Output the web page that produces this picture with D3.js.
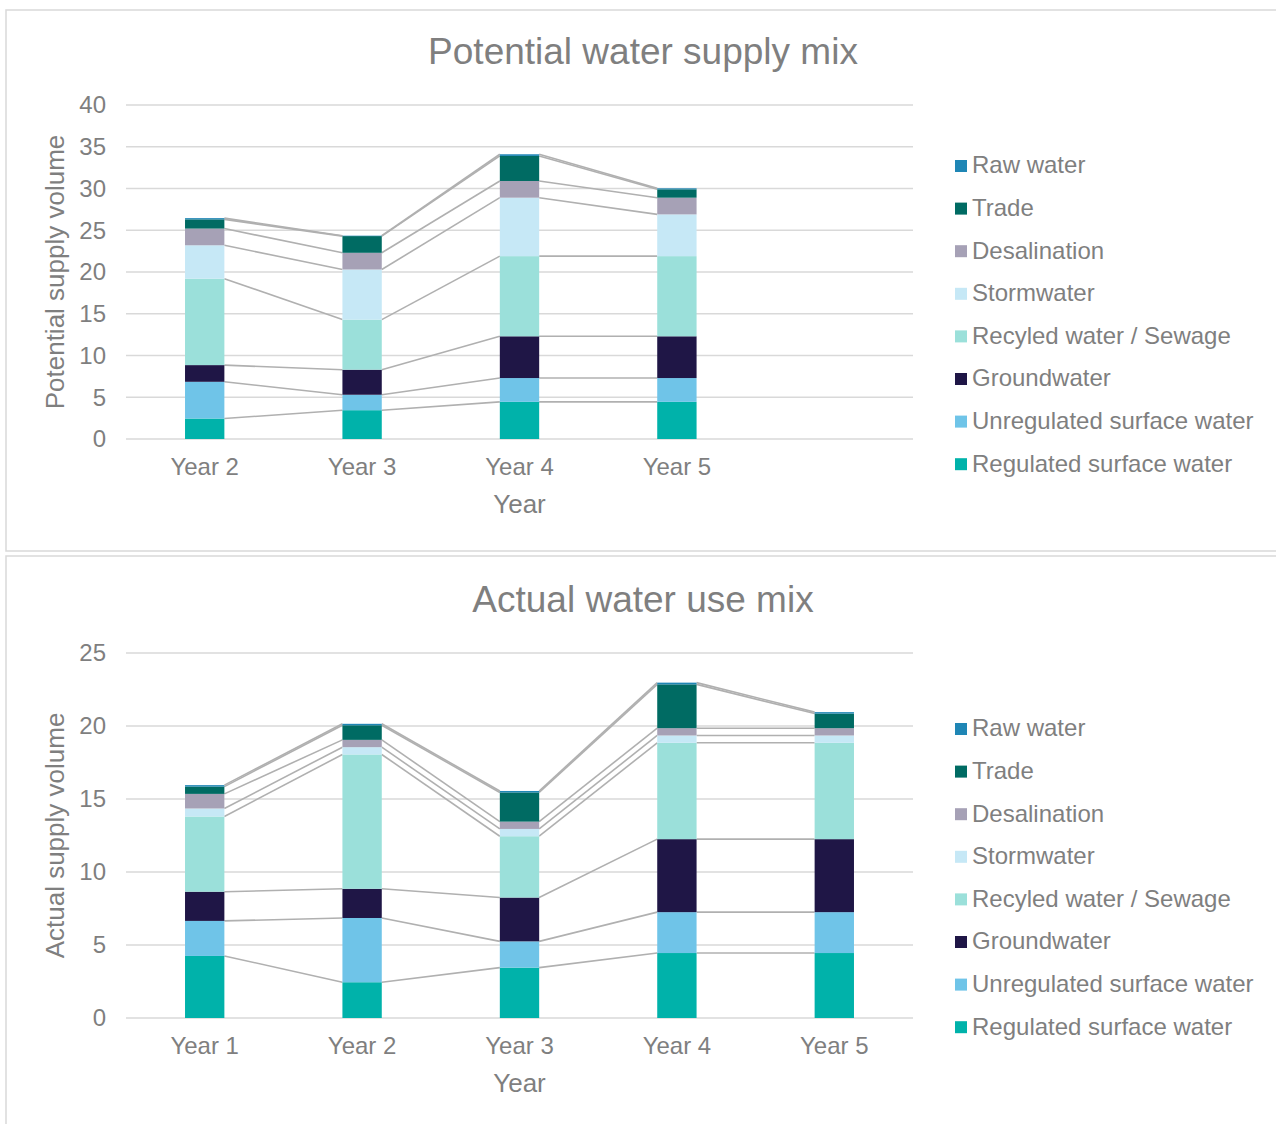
<!DOCTYPE html>
<html>
<head>
<meta charset="utf-8">
<script src="https://cdn.jsdelivr.net/npm/d3@7"></script>
<style>
  body { margin: 0; background: #fff; }
  text { font-family: "Liberation Sans", Arial, sans-serif; fill: #7f7f7f; }
</style>
</head>
<body>
<svg id="chart" width="1276" height="1124"></svg>
<script>
// series, bottom to top of each stack
var seriesNames = ['Regulated surface water', 'Unregulated surface water', 'Groundwater',
  'Recyled water / Sewage', 'Stormwater', 'Desalination', 'Trade', 'Raw water'];
var seriesColors = ['#00b2aa', '#6fc4e8', '#1f1646', '#9be0da', '#c6e8f6', '#a6a1b6', '#006b63', '#1f86b5'];

// Potential water supply mix
var potentialYears = ['Year 2', 'Year 3', 'Year 4', 'Year 5'];
var potRegulated   = [2.45, 3.45, 4.45, 4.45];
var potUnregulated = [4.4, 1.85, 2.85, 2.85];
var potGroundwater = [2.0, 3.0, 5.0, 5.0];
var potRecycled    = [10.35, 6.0, 9.6, 9.6];
var potStormwater  = [4.0, 6.0, 7.0, 5.0];
var potDesal       = [2.0, 2.0, 2.0, 2.0];
var potTrade       = [1.1, 2.0, 3.0, 1.0];
var potRaw         = [0.15, 0.05, 0.2, 0.12];
var potTicks       = [0, 5, 10, 15, 20, 25, 30, 35, 40];

// Actual water use mix
var actualYears = ['Year 1', 'Year 2', 'Year 3', 'Year 4', 'Year 5'];
var actRegulated   = [4.25, 2.45, 3.45, 4.45, 4.45];
var actUnregulated = [2.4, 4.4, 1.8, 2.8, 2.8];
var actGroundwater = [2.0, 2.0, 3.0, 5.0, 5.0];
var actRecycled    = [5.15, 9.2, 4.2, 6.6, 6.6];
var actStormwater  = [0.55, 0.5, 0.5, 0.5, 0.5];
var actDesal       = [1.0, 0.5, 0.5, 0.5, 0.5];
var actTrade       = [0.5, 1.0, 2.0, 3.0, 1.0];
var actRaw         = [0.1, 0.1, 0.1, 0.12, 0.1];
var actTicks       = [0, 5, 10, 15, 20, 25];

var svg = d3.select('#chart');

function drawChart(cfg) {
  var g = svg.append('g');

  // chart frame
  g.append('rect')
    .attr('x', 6).attr('y', cfg.boxTop)
    .attr('width', 1290).attr('height', cfg.boxHeight)
    .attr('fill', '#fff').attr('stroke', '#d9d9d9').attr('stroke-width', 1.5);

  var left = 126, right = 913;
  // always five slots, so the top chart leaves the last one empty
  var slots = cfg.years.slice();
  while (slots.length < 5) slots.push('__empty' + slots.length);

  var x = d3.scaleBand().domain(slots).range([left, right]).paddingInner(0.75).paddingOuter(0.375);
  var y = d3.scaleLinear().domain([0, cfg.max]).range([cfg.bottom, cfg.top]);

  var rows = cfg.years.map(function (yr, i) {
    var r = { year: yr };
    seriesNames.forEach(function (s, k) { r[s] = cfg.values[k][i]; });
    return r;
  });
  var stacked = d3.stack().keys(seriesNames)(rows);

  // gridlines
  g.append('g').selectAll('line').data(cfg.ticks).enter().append('line')
    .attr('x1', left).attr('x2', right)
    .attr('y1', function (d) { return y(d); }).attr('y2', function (d) { return y(d); })
    .attr('stroke', '#d9d9d9').attr('stroke-width', 1.5);

  // y axis labels
  var yAxis = d3.axisLeft(y).tickValues(cfg.ticks).tickSize(0).tickPadding(20);
  var ya = g.append('g').attr('transform', 'translate(' + left + ',0)').call(yAxis);
  ya.select('.domain').remove();
  ya.selectAll('text').style('font-size', '24px').attr('fill', '#7f7f7f')
    .style('font-family', '"Liberation Sans", Arial, sans-serif')
    .attr('dy', null).attr('y', 1.5).attr('dominant-baseline', 'middle');

  // x axis labels
  var xAxis = d3.axisBottom(x).tickValues(cfg.years).tickSize(0).tickPadding(0);
  var xa = g.append('g').attr('transform', 'translate(0,' + cfg.bottom + ')').call(xAxis);
  xa.select('.domain').remove();
  xa.selectAll('text').style('font-size', '24px').attr('fill', '#7f7f7f')
    .style('font-family', '"Liberation Sans", Arial, sans-serif')
    .attr('dy', null).attr('y', 30).attr('dominant-baseline', 'middle');

  // series lines between bars (tops of each segment)
  stacked.forEach(function (layer) {
    for (var i = 0; i < layer.length - 1; i++) {
      g.append('line')
        .attr('x1', x(cfg.years[i]) + x.bandwidth())
        .attr('x2', x(cfg.years[i + 1]))
        .attr('y1', y(layer[i][1]))
        .attr('y2', y(layer[i + 1][1]))
        .attr('stroke', '#b0b0b0').attr('stroke-width', 1.6);
    }
  });

  // bars
  g.append('g').selectAll('g').data(stacked).enter().append('g')
    .attr('fill', function (d, k) { return seriesColors[k]; })
    .selectAll('rect').data(function (d) { return d; }).enter().append('rect')
    .attr('x', function (d) { return x(d.data.year); })
    .attr('width', x.bandwidth())
    .attr('y', function (d) { return y(d[1]); })
    .attr('height', function (d) { return y(d[0]) - y(d[1]); });

  // titles
  g.append('text').attr('x', 643).attr('y', cfg.titleY)
    .attr('text-anchor', 'middle').attr('dominant-baseline', 'middle')
    .style('font-size', '37px').text(cfg.title);
  g.append('text').attr('x', (left + right) / 2).attr('y', cfg.bottom + 67)
    .attr('text-anchor', 'middle').attr('dominant-baseline', 'middle')
    .style('font-size', '26px').text('Year');
  g.append('text')
    .attr('transform', 'translate(57,' + (cfg.top + cfg.bottom) / 2 + ') rotate(-90)')
    .attr('text-anchor', 'middle').attr('dominant-baseline', 'middle')
    .style('font-size', '26px').text(cfg.yTitle);

  // legend, top item is last series
  var legendItems = seriesNames.slice().reverse();
  var lg = g.append('g').selectAll('g').data(legendItems).enter().append('g')
    .attr('transform', function (d, i) { return 'translate(955,' + (cfg.legendTop + i * 42.6) + ')'; });
  lg.append('rect').attr('x', 0).attr('y', -5).attr('width', 12).attr('height', 12)
    .attr('fill', function (d) { return seriesColors[seriesNames.indexOf(d)]; });
  lg.append('text').attr('x', 17).attr('y', 2).attr('dominant-baseline', 'middle')
    .style('font-size', '24px').text(function (d) { return d; });
}

drawChart({
  title: 'Potential water supply mix', yTitle: 'Potential supply volume',
  years: potentialYears, ticks: potTicks, max: 40,
  values: [potRegulated, potUnregulated, potGroundwater, potRecycled, potStormwater, potDesal, potTrade, potRaw],
  boxTop: 10, boxHeight: 541, top: 105, bottom: 439, titleY: 54, legendTop: 165
});

drawChart({
  title: 'Actual water use mix', yTitle: 'Actual supply volume',
  years: actualYears, ticks: actTicks, max: 25,
  values: [actRegulated, actUnregulated, actGroundwater, actRecycled, actStormwater, actDesal, actTrade, actRaw],
  boxTop: 556, boxHeight: 600, top: 653, bottom: 1018, titleY: 602, legendTop: 728
});
</script>
</body>
</html>
